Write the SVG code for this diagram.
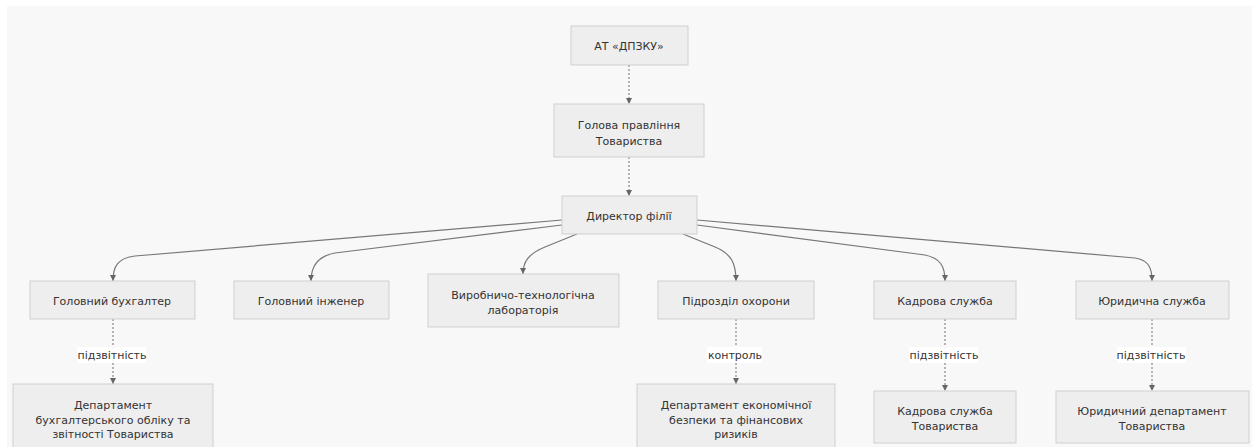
<svg xmlns="http://www.w3.org/2000/svg" width="1258" height="447" viewBox="0 0 1258 447">
<defs>
<style>
.bg{fill:#f8f8f8}
.node rect{fill:#eeeeee;stroke:#cfcfcf;stroke-width:1}
.node text,.lbl text{font-family:"DejaVu Sans",Verdana,sans-serif;font-size:11px;fill:#333;text-anchor:middle}
.e{fill:none;stroke:#777;stroke-width:1.2}
.d{fill:none;stroke:#888;stroke-width:1.2;stroke-dasharray:2,2}
.lbl rect{fill:#ffffff;opacity:0.9}
</style>
<marker id="arr" viewBox="0 0 10 10" refX="10" refY="5" markerWidth="6" markerHeight="6" orient="auto" markerUnits="userSpaceOnUse">
<path d="M0,0 L10,5 L0,10 z" fill="#666"/>
</marker>
</defs>
<rect class="bg" x="7" y="6" width="1245" height="441"/>
<g id="connectors">
<path class="d" d="M629,65 L629,104" marker-end="url(#arr)"/>
<path class="d" d="M629,157 L629,196" marker-end="url(#arr)"/>
<path class="e" d="M562,220 L135,256 C118,258 113,266 113,281" marker-end="url(#arr)"/>
<path class="e" d="M562,225 L335,253 C318,256 311,266 311,281" marker-end="url(#arr)"/>
<path class="e" d="M577,234 L545,247 C528,254 523,262 523,274" marker-end="url(#arr)"/>
<path class="e" d="M683,234 L715,247 C732,254 736,264 736,281" marker-end="url(#arr)"/>
<path class="e" d="M697,225 L925,255 C940,258 945,266 945,281" marker-end="url(#arr)"/>
<path class="e" d="M697,220 L1135,258 C1148,260 1152,267 1152,281" marker-end="url(#arr)"/>
<path class="d" d="M113,319 L113,384" marker-end="url(#arr)"/>
<path class="d" d="M736,319 L736,384" marker-end="url(#arr)"/>
<path class="d" d="M945,319 L945,391" marker-end="url(#arr)"/>
<path class="d" d="M1152,319 L1152,391" marker-end="url(#arr)"/>
<g class="lbl"><rect x="77" y="347" width="69" height="16"/><text x="112" y="359">підзвітність</text></g>
<g class="lbl"><rect x="707" y="347" width="55" height="16"/><text x="735" y="359">контроль</text></g>
<g class="lbl"><rect x="909" y="347" width="69" height="16"/><text x="944" y="359">підзвітність</text></g>
<g class="lbl"><rect x="1117" y="347" width="69" height="16"/><text x="1151" y="359">підзвітність</text></g>
</g>
<g id="n_at" class="node"><rect x="571" y="26" width="117" height="39"/><text x="629" y="50">АТ «ДПЗКУ»</text></g>
<g id="n_head" class="node"><rect x="554" y="104" width="150" height="53"/><text x="629" y="129">Голова правління</text><text x="629" y="145">Товариства</text></g>
<g id="n_dir" class="node"><rect x="562" y="196" width="135" height="38"/><text x="629" y="220">Директор філії</text></g>
<g id="n_acc" class="node"><rect x="30" y="281" width="165" height="38"/><text x="112" y="305">Головний бухгалтер</text></g>
<g id="n_eng" class="node"><rect x="234" y="281" width="155" height="38"/><text x="311" y="305">Головний інженер</text></g>
<g id="n_lab" class="node"><rect x="428" y="274" width="191" height="53"/><text x="523" y="299">Виробничо-технологічна</text><text x="523" y="314">лабораторія</text></g>
<g id="n_sec" class="node"><rect x="658" y="281" width="156" height="38"/><text x="736" y="305">Підрозділ охорони</text></g>
<g id="n_hr" class="node"><rect x="874" y="281" width="142" height="38"/><text x="945" y="305">Кадрова служба</text></g>
<g id="n_law" class="node"><rect x="1076" y="281" width="153" height="38"/><text x="1152" y="305">Юридична служба</text></g>
<g id="n_accdep" class="node"><rect x="13" y="384" width="200" height="70"/><text x="113" y="409">Департамент</text><text x="113" y="424">бухгалтерського обліку та</text><text x="113" y="438">звітності Товариства</text></g>
<g id="n_secdep" class="node"><rect x="637" y="384" width="198" height="70"/><text x="736" y="409">Департамент економічної</text><text x="736" y="424">безпеки та фінансових</text><text x="736" y="438">ризиків</text></g>
<g id="n_hrdep" class="node"><rect x="874" y="391" width="142" height="52"/><text x="945" y="415">Кадрова служба</text><text x="945" y="430">Товариства</text></g>
<g id="n_lawdep" class="node"><rect x="1056" y="391" width="193" height="52"/><text x="1152" y="415">Юридичний департамент</text><text x="1152" y="430">Товариства</text></g>
</svg>
